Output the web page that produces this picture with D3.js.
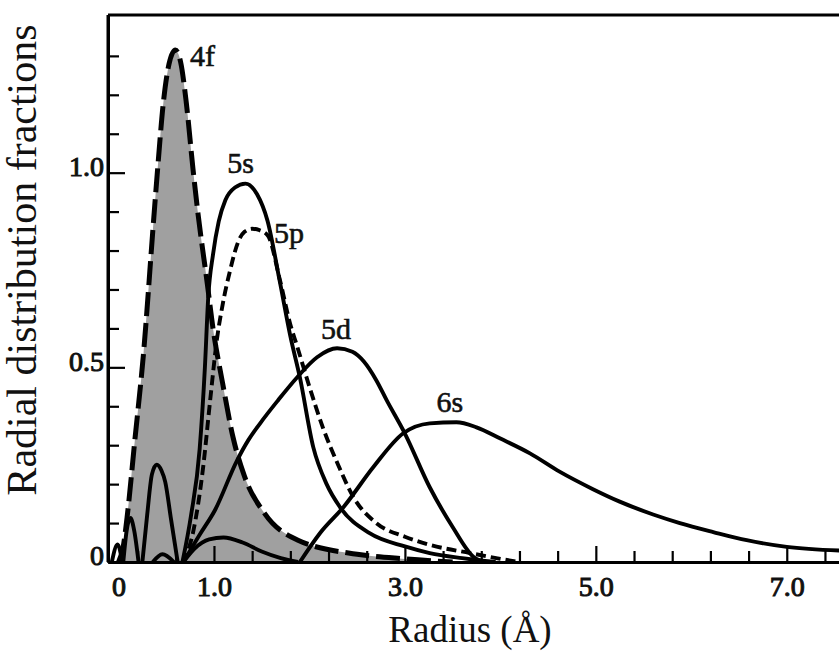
<!DOCTYPE html>
<html>
<head>
<meta charset="utf-8">
<script src="https://cdn.jsdelivr.net/npm/d3@7/dist/d3.min.js"></script>
<style>
  html, body { margin: 0; padding: 0; background: #fff; }
  svg { display: block; }
  svg text { font-family: "Liberation Serif", "Times New Roman", serif !important; fill: #111; }
</style>
</head>
<body>
<svg id="chart" width="839" height="653"></svg>
<script>
// Radial distribution curves, [radius in Å, fraction]; each orbital is split into lobes at its nodes
const orb4f = [[
  [0.0, 0], [0.05, 0.04], [0.09, 0.115], [0.17, 0.31], [0.26, 0.53], [0.37, 0.885],
  [0.41, 1.01], [0.47, 1.18], [0.53, 1.28], [0.595, 1.315], [0.65, 1.285], [0.71, 1.18],
  [0.78, 1.01], [0.83, 0.90], [0.93, 0.715], [0.99, 0.60], [1.09, 0.46], [1.2, 0.32],
  [1.32, 0.22], [1.53, 0.125], [1.88, 0.056], [2.5, 0.02], [3.0, 0.008], [3.5, 0]
]];

const orb5s = [
  [[-0.07, 0], [-0.01, 0.045], [0.04, 0]],
  [[0.05, 0], [0.085, 0.08], [0.125, 0.113], [0.165, 0.08], [0.21, 0]],
  [[0.25, 0], [0.30, 0.12], [0.35, 0.225], [0.40, 0.25], [0.45, 0.235], [0.49, 0.205], [0.55, 0.11], [0.62, 0]],
  [[0.67, 0], [0.76, 0.12], [0.85, 0.29], [0.905, 0.50], [0.94, 0.68], [0.99, 0.79], [1.05, 0.875],
   [1.12, 0.93], [1.22, 0.962], [1.33, 0.972], [1.45, 0.945], [1.56, 0.877], [1.69, 0.72],
   [1.80, 0.58], [1.90, 0.474], [2.04, 0.295], [2.18, 0.20], [2.32, 0.141], [2.63, 0.074],
   [3.0, 0.04], [3.26, 0.023], [3.6, 0.01], [3.95, 0]]
];

const orb5p = [
  [[0.67, 0], [0.78, 0.075], [0.885, 0.24], [0.96, 0.415], [1.03, 0.57], [1.09, 0.66], [1.17, 0.75],
   [1.25, 0.82], [1.32, 0.848], [1.40, 0.856], [1.48, 0.852], [1.566, 0.838], [1.69, 0.725],
   [1.80, 0.61], [1.87, 0.555], [2.0, 0.45], [2.14, 0.346], [2.3, 0.25], [2.46, 0.167],
   [2.7, 0.10], [3.0, 0.065], [3.26, 0.044], [3.68, 0.023], [4.0, 0.008], [4.2, 0]]
];

const orb5d = [
  [[0.36, 0], [0.46, 0.02], [0.58, 0]],
  [[0.68, 0], [0.85, 0.07], [1.01, 0.133], [1.24, 0.26], [1.36, 0.313], [1.48, 0.355], [1.67, 0.415],
   [1.87, 0.474], [2.08, 0.526], [2.29, 0.549], [2.45, 0.54], [2.57, 0.515], [2.70, 0.467],
   [2.81, 0.415], [3.0, 0.33], [3.26, 0.192], [3.50, 0.09], [3.72, 0.013], [3.85, 0]]
];

const orb6s = [
  [[0.68, 0], [0.8, 0.035], [0.95, 0.058], [1.1, 0.063], [1.3, 0.05], [1.5, 0.027], [1.7, 0.01], [1.88, 0]],
  [[1.9, 0], [2.11, 0.074], [2.36, 0.142], [2.67, 0.244], [2.98, 0.33], [3.26, 0.356], [3.54, 0.359],
   [3.75, 0.346], [4.0, 0.317], [4.31, 0.279], [4.62, 0.232], [4.97, 0.187], [5.25, 0.155],
   [5.6, 0.122], [5.88, 0.10], [6.23, 0.077], [6.58, 0.056], [7.0, 0.039], [7.61, 0.029]]
];

// Curve labels: [text, radius, fraction] of the label baseline start
const curveLabels = [
  ["4f", 0.75, 1.274],
  ["5s", 1.14, 1.0],
  ["5p", 1.63, 0.82],
  ["5d", 2.12, 0.574],
  ["6s", 3.33, 0.385]
];

// Axis ticks
const xLabelValues = [0, 1.0, 3.0, 5.0, 7.0];
const xLabelText = ["0", "1.0", "3.0", "5.0", "7.0"];
const xMajorTicks = [1.0, 3.0, 5.0, 7.0];
const xMinorTicks = [0.2, 0.6, 1.4, 1.8, 2.2, 2.6, 3.4, 3.8, 4.2, 4.6, 5.4, 5.8, 6.2, 6.6, 7.4];
const yLabelValues = [0, 0.5, 1.0];
const yLabelText = ["0", "0.5", "1.0"];
const yMajorTicks = [0.5, 1.0];
const yMinorTicks = [0.1, 0.2, 0.3, 0.4, 0.6, 0.7, 0.8, 0.9, 1.1, 1.2, 1.3];

const serif = '"Liberation Serif", "Times New Roman", serif';
const svg = d3.select("#chart");
const mLeft = 108, mTop = 15, mRight = 845, mBottom = 562;

const x = d3.scaleLinear().domain([-0.11, 7.61]).range([mLeft, mRight]);
const y = d3.scaleLinear().domain([0, 1.405]).range([mBottom, mTop]);

svg.append("defs").append("clipPath").attr("id", "plot")
  .append("rect").attr("x", mLeft).attr("y", mTop).attr("width", mRight - mLeft).attr("height", mBottom - mTop);

const plot = svg.append("g").attr("clip-path", "url(#plot)");

const line = d3.line().x(d => x(d[0])).y(d => y(d[1])).curve(d3.curveMonotoneX);
const area = d3.area().x(d => x(d[0])).y0(y(0)).y1(d => y(d[1])).curve(d3.curveMonotoneX);

// Shaded 4f distribution
plot.selectAll("path.fill4f").data(orb4f).join("path")
  .attr("class", "fill4f")
  .attr("d", area)
  .attr("fill", "#a0a0a0");

function drawOrbital(lobes, width, dash) {
  plot.append("g").selectAll("path").data(lobes).join("path")
    .attr("d", line)
    .attr("fill", "none")
    .attr("stroke", "#000")
    .attr("stroke-width", width)
    .attr("stroke-linejoin", "round")
    .attr("stroke-dasharray", dash);
}

drawOrbital(orb6s, 3.9, null);
drawOrbital(orb5d, 3.9, null);
drawOrbital(orb5p, 3.9, "10,5");
drawOrbital(orb5s, 3.9, null);
drawOrbital(orb4f, 5, "24,7");

// Frame
svg.append("line").attr("x1", mLeft).attr("x2", 839).attr("y1", mTop).attr("y2", mTop)
  .attr("stroke", "#000").attr("stroke-width", 3);

function styleAxis(g) {
  g.attr("font-family", serif);
  g.select(".domain").attr("stroke", "#000").attr("stroke-width", 3);
  g.selectAll(".tick line").attr("stroke", "#000").attr("stroke-width", 2.2);
  g.selectAll(".tick text")
    .style("font-family", serif)
    .attr("font-size", 28).attr("fill", "#111")
    .attr("stroke", "#111").attr("stroke-width", 1);
}

// Bottom axis: minor and major inward ticks, then labels
svg.append("g").attr("transform", `translate(0,${mBottom})`)
  .call(d3.axisBottom(x).tickValues(xMinorTicks).tickSize(-11).tickSizeOuter(0).tickFormat(""))
  .call(styleAxis);
svg.append("g").attr("transform", `translate(0,${mBottom})`)
  .call(d3.axisBottom(x).tickValues(xMajorTicks).tickSize(-16).tickSizeOuter(0).tickFormat(""))
  .call(styleAxis);
svg.append("g").attr("transform", `translate(0,${mBottom})`)
  .call(d3.axisBottom(x).tickValues(xLabelValues).tickSize(0).tickSizeOuter(0).tickPadding(14)
    .tickFormat((d, i) => xLabelText[i]))
  .call(styleAxis);

// Left axis
svg.append("g").attr("transform", `translate(${mLeft},0)`)
  .call(d3.axisLeft(y).tickValues(yMinorTicks).tickSize(-11).tickSizeOuter(0).tickFormat(""))
  .call(styleAxis);
svg.append("g").attr("transform", `translate(${mLeft},0)`)
  .call(d3.axisLeft(y).tickValues(yMajorTicks).tickSize(-17).tickSizeOuter(0).tickFormat(""))
  .call(styleAxis);
const yLab = svg.append("g").attr("transform", `translate(${mLeft},0)`)
  .call(d3.axisLeft(y).tickValues(yLabelValues).tickSize(0).tickSizeOuter(0).tickPadding(4)
    .tickFormat((d, i) => yLabelText[i]))
  .call(styleAxis);
yLab.select(".domain").attr("d", `M0,${mTop}V${mBottom}`);
yLab.selectAll(".tick text").attr("dy", "0.1em");

// Curve labels
svg.append("g").selectAll("text").data(curveLabels).join("text")
  .attr("x", d => x(d[1]))
  .attr("y", d => y(d[2]))
  .style("font-family", serif)
  .attr("font-size", 30)
  .attr("stroke", "#111").attr("stroke-width", 0.6)
  .text(d => d[0]);

// Axis titles
svg.append("text")
  .attr("x", 470).attr("y", 642)
  .attr("text-anchor", "middle")
  .style("font-family", serif)
  .attr("font-size", 37)
  .text("Radius (Å)");

svg.append("text")
  .attr("transform", "translate(36,260) rotate(-90)")
  .attr("text-anchor", "middle")
  .style("font-family", serif)
  .attr("font-size", 42)
  .text("Radial distribution fractions");
</script>
</body>
</html>
